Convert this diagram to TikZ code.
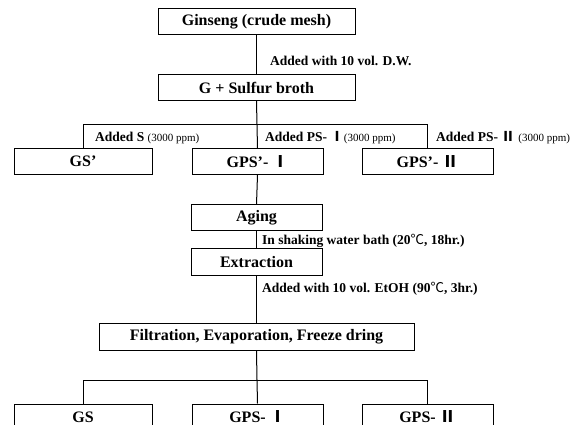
\documentclass[tikz,border=0pt]{standalone}
\usepackage{fontspec}
\setmainfont{Liberation Serif}
\newfontfamily\kr{Noto Sans CJK KR}
\newcommand\ppmtxt{{\fontsize{11}{12}\selectfont\mdseries(3000 ppm)}}
\newcommand\rI{{\kr\bfseries Ⅰ}}
\newcommand\rII{{\kr\bfseries Ⅱ}}
\newcommand\degC{{\kr\mdseries ℃}}
\begin{document}
\begin{tikzpicture}[x=1pt,y=-1pt,
  box/.style={draw, line width=1pt, inner sep=0pt, minimum height=26pt,
    font=\fontsize{16}{18}\selectfont\bfseries},
  lbl/.style={inner sep=0pt, anchor=west, font=\fontsize{13.5}{15}\selectfont\bfseries},
  conn/.style={line width=1pt}]
\useasboundingbox (0,0) rectangle (579,425);
\fill[white] (0,0) rectangle (579,425);

% boxes
\node[box, minimum width=197pt] (gin) at (256.5,22) {Ginseng (crude mesh)};
\node[box, minimum width=197pt] (gsb) at (256.5,87.5) {G + Sulfur broth};
\node[box, minimum width=138pt] (gsp) at (83,161.5) {GS’};
\node[box, minimum width=131pt] (gpsp1) at (257.5,161.5) {GPS’- \rI};
\node[box, minimum width=131pt] (gpsp2) at (427.5,161.5) {GPS’- \rII};
\node[box, minimum width=131pt] (aging) at (256.5,218) {Aging};
\node[box, minimum width=131pt] (extr) at (256.5,262) {Extraction};
\node[box, minimum width=315pt, minimum height=27pt] (filt) at (256.5,337) {Filtration, Evaporation, Freeze dring};
\node[box, minimum width=138pt] (gs) at (83,417) {GS};
\node[box, minimum width=131pt] (gps1) at (257.5,417) {GPS- \rI};
\node[box, minimum width=131pt] (gps2) at (427.5,417) {GPS- \rII};

% bus coordinates
\coordinate (b1) at (257,125);
\coordinate (b1l) at (83,125);
\coordinate (b1r) at (427.5,125);
\coordinate (b2) at (257,380);
\coordinate (b2l) at (83,380);
\coordinate (b2r) at (427.5,380);

% connectors
\draw[conn] (gin.south) -- (gsb.north);
\draw[conn] (gsb.south) -- (b1);
\draw[conn] (b1l) -- (b1r);
\draw[conn] (b1l) -- (gsp.north);
\draw[conn] (b1) -- (gpsp1.north);
\draw[conn] (b1r) -- (gpsp2.north);
\draw[conn] (gpsp1.south) -- (aging.north);
\draw[conn] (aging.south) -- (extr.north);
\draw[conn] (extr.south) -- (filt.north);
\draw[conn] (filt.south) -- (b2);
\draw[conn] (b2l) -- (b2r);
\draw[conn] (b2l) -- (gs.north);
\draw[conn] (b2) -- (gps1.north);
\draw[conn] (b2r) -- (gps2.north);

% labels
\node[lbl] (ldw) at (270,61) {Added with 10 vol. D.W.};
\node[lbl] (ls) at (95,138) {Added S \ppmtxt};
\node[lbl] (lps1) at (265,138) {Added PS- \rI\ppmtxt};
\node[lbl] (lps2) at (436,138) {Added PS- \rII\ \ppmtxt};
\node[lbl] (lshake) at (262,241) {In shaking water bath (20\degC, 18hr.)};
\node[lbl] (letoh) at (262,289) {Added with 10 vol. EtOH (90\degC, 3hr.)};
\end{tikzpicture}
\end{document}
